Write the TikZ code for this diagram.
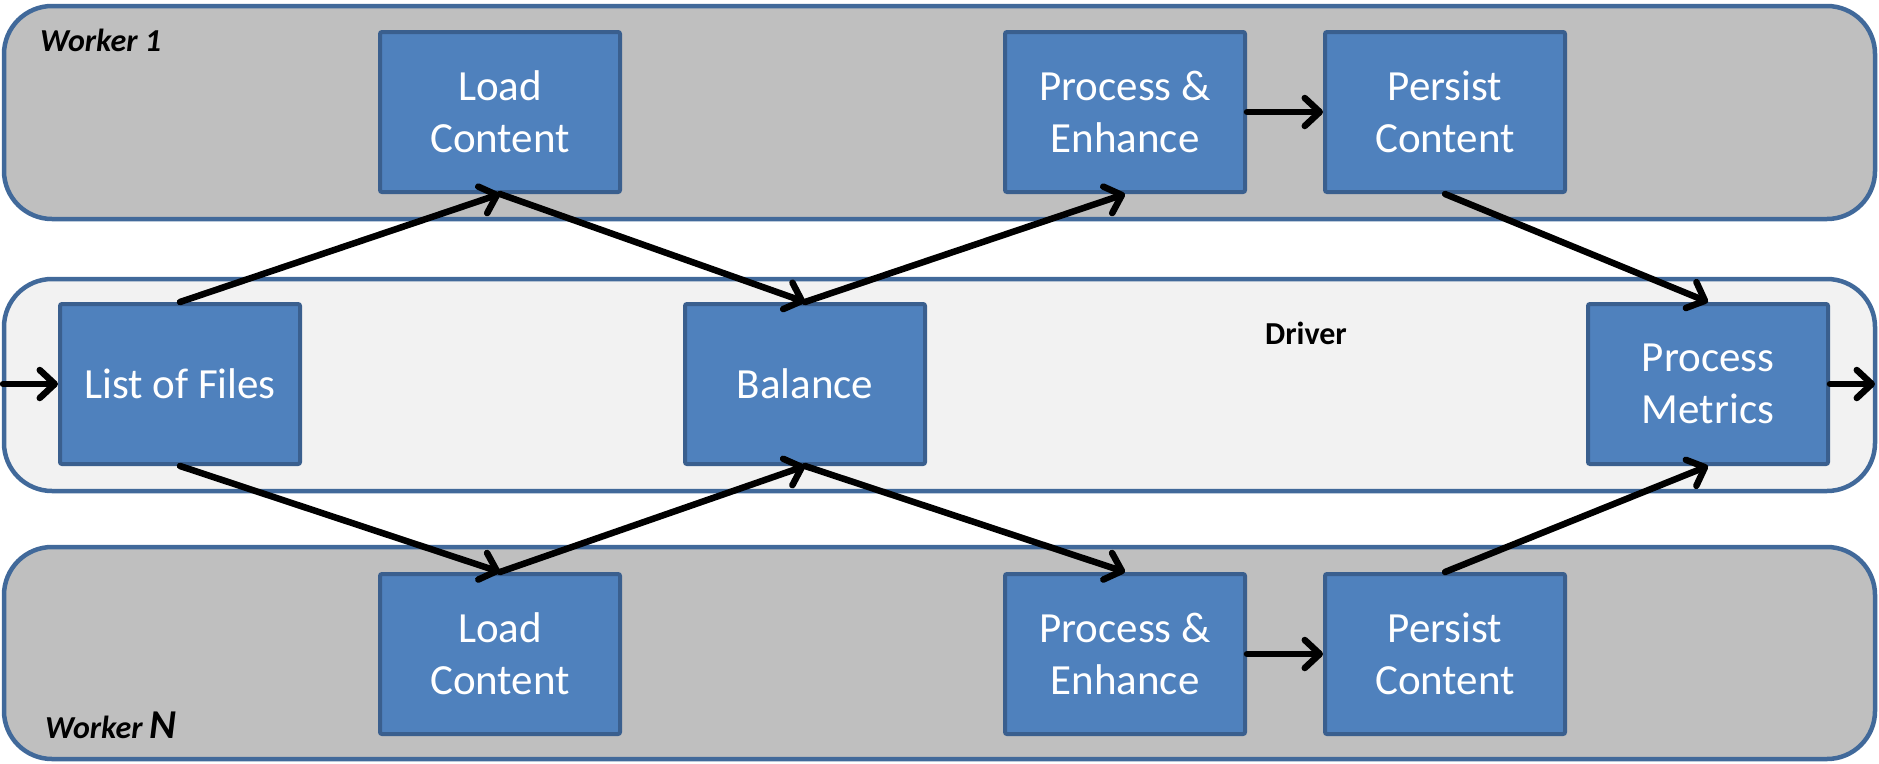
\documentclass[tikz,border=0pt]{standalone}
\usepackage{fontspec}
\setmainfont{Carlito}
\usetikzlibrary{arrows.meta}
\definecolor{bandedge}{HTML}{41699A}
\definecolor{workerfill}{HTML}{BFBFBF}
\definecolor{driverfill}{HTML}{F2F2F2}
\definecolor{boxfill}{HTML}{4F81BD}
\definecolor{boxedge}{HTML}{3A5F8E}
\tikzset{
  band/.style={draw=bandedge, line width=4.5pt, rounded corners=48pt},
  stage/.style={draw=boxedge, fill=boxfill, line width=4pt, rounded corners=2pt,
    minimum width=240pt, minimum height=160pt, inner sep=0pt,
    text=white, align=center, font=\fontsize{43}{52}\selectfont},
  lanelabel/.style={font=\fontsize{32}{36}\selectfont\bfseries\itshape, anchor=west, inner sep=0pt},
  flow/.style={line width=6.5pt, line cap=round,
    -{Straight Barb[length=15pt,width=28pt,round]}}
}
\begin{document}
\begin{tikzpicture}[x=1pt,y=-1pt]
\useasboundingbox (0,0) rectangle (1879,763);

% swim lanes
\draw[band, fill=workerfill] (4,6) rectangle (1875,219);
\draw[band, fill=driverfill] (4,279) rectangle (1875,491);
\draw[band, fill=workerfill] (4,547) rectangle (1875,759);

\node[lanelabel] (w1) at (40,40) {Worker 1};
\node[lanelabel] (wn) at (45,725) {Worker {\fontsize{41}{42}\selectfont N}};
\node[font=\fontsize{32}{36}\selectfont\bfseries, inner sep=0pt] (drv) at (1306,333) {Driver};

% worker 1 stages
\node[stage] (load1) at (500,112) {Load\\Content};
\node[stage] (proc1) at (1125,112) {Process \&\\Enhance};
\node[stage] (pers1) at (1445,112) {Persist\\Content};

% driver stages
\node[stage] (files) at (180,384) {List of Files};
\node[stage] (bal) at (805,384) {Balance};
\node[stage] (metr) at (1708,384) {Process\\Metrics};

% worker N stages
\node[stage] (loadn) at (500,654) {Load\\Content};
\node[stage] (procn) at (1125,654) {Process \&\\Enhance};
\node[stage] (persn) at (1445,654) {Persist\\Content};

\coordinate (in) at (3,384);
\coordinate (out) at (1875,384);

% connectors
\draw[flow] (in) -- (files.west);
\draw[flow] (metr.east) -- (out);

\draw[flow] (files.north) -- (load1.south);
\draw[flow] (load1.south) -- (bal.north);
\draw[flow] (bal.north) -- (proc1.south);
\draw[flow] (proc1.east) -- (pers1.west);
\draw[flow] (pers1.south) -- (metr.north);

\draw[flow] (files.south) -- (loadn.north);
\draw[flow] (loadn.north) -- (bal.south);
\draw[flow] (bal.south) -- (procn.north);
\draw[flow] (procn.east) -- (persn.west);
\draw[flow] (persn.north) -- (metr.south);
\end{tikzpicture}
\end{document}
